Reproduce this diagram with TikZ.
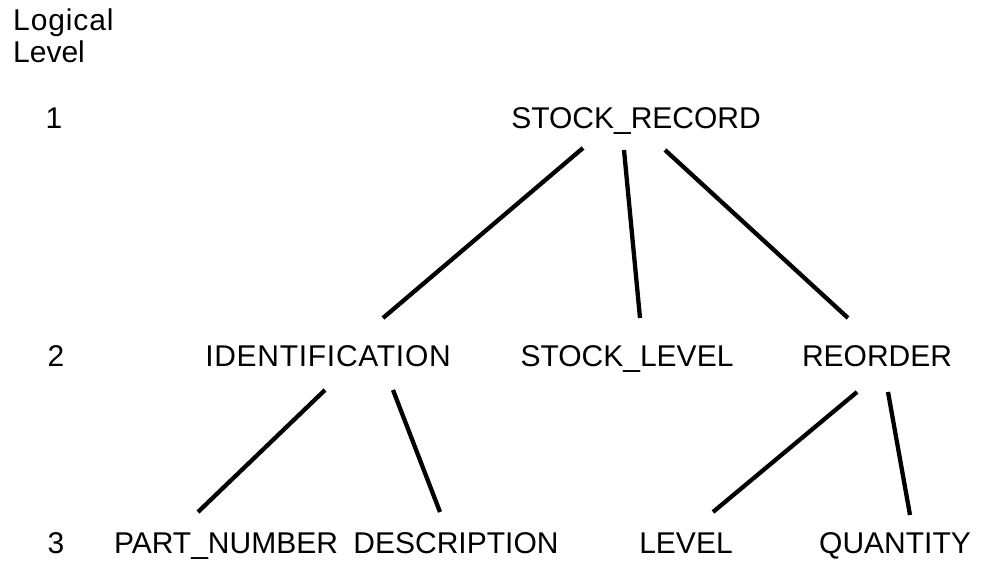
\documentclass[tikz,border=0pt]{standalone}
\usepackage{fontspec}
\setmainfont{Liberation Sans}
\usetikzlibrary{calc}
\tikzset{
  lbl/.style={anchor=base, inner sep=0pt, font=\fontsize{30}{36}\selectfont},
  lvl/.style={anchor=base west, inner sep=0pt, font=\fontsize{30}{36}\selectfont},
  link/.style={line width=4.3pt, line cap=butt}
}
\begin{document}
\begin{tikzpicture}[x=1pt,y=-1pt]
  \useasboundingbox (0,0) rectangle (985,562);

  % level column
  \node[lvl] (hd1) at (13,30) {\addfontfeature{LetterSpace=3}Logical};
  \node[lvl] (hd2) at (13,62) {Level};
  \node[lbl] (n1) at (54,128) {1};
  \node[lbl] (n2) at (56,366) {2};
  \node[lbl] (n3) at (56,553) {3};

  % record structure
  \node[lbl] (sr) at (636,128) {STOCK\_RECORD};
  \node[lbl] (id) at (328,366) {\addfontfeature{LetterSpace=2.4}IDENTIFICATION};
  \node[lbl] (sl) at (627,366) {STOCK\_LEVEL};
  \node[lbl] (ro) at (877,366) {REORDER};
  \node[lbl] (pn) at (226,553) {PART\_NUMBER};
  \node[lbl] (de) at (456,553) {DESCRIPTION};
  \node[lbl] (lv) at (686,553) {LEVEL};
  \node[lbl] (qu) at (895,553) {QUANTITY};

  % tree links
  \draw[link] ($(sr.base)+(-53,20)$) -- ($(id.base)+(55,-48)$);
  \draw[link] ($(sr.base)+(-12,22)$) -- ($(sl.base)+(13,-48)$);
  \draw[link] ($(sr.base)+(29,22)$)  -- ($(ro.base)+(-29,-48)$);
  \draw[link] ($(id.base)+(-3,24)$)  -- ($(pn.base)+(-28,-41)$);
  \draw[link] ($(id.base)+(65,24)$)  -- ($(de.base)+(-16,-41)$);
  \draw[link] ($(ro.base)+(-20,26)$) -- ($(lv.base)+(27,-41)$);
  \draw[link] ($(ro.base)+(11,26)$)  -- ($(qu.base)+(15,-38)$);
\end{tikzpicture}
\end{document}
